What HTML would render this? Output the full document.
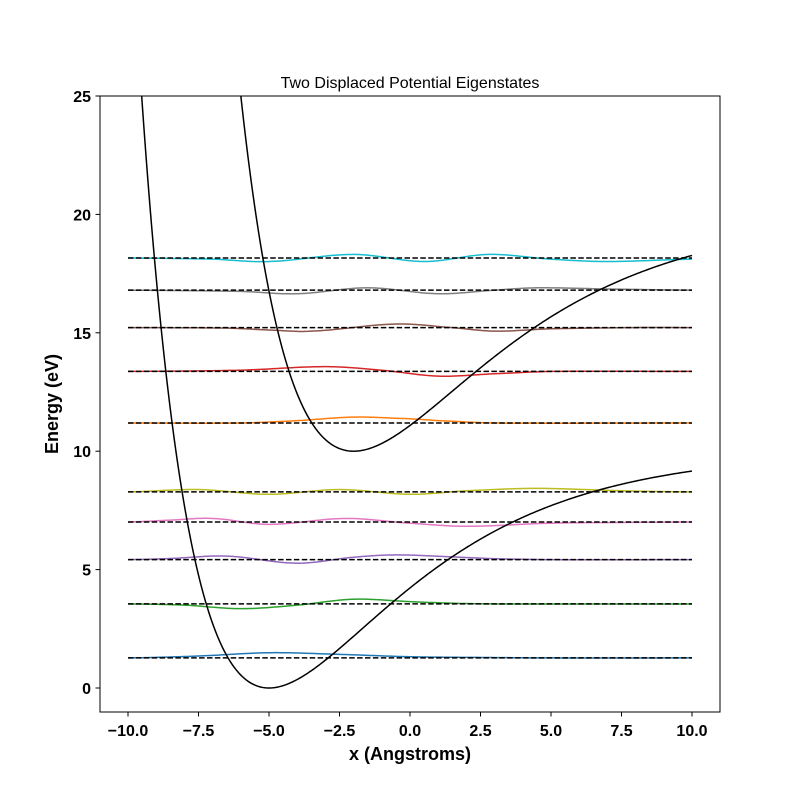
<!DOCTYPE html>
<html><head><meta charset="utf-8"><style>
body{margin:0;background:#fff}
svg text{font-family:"Liberation Sans","DejaVu Sans",sans-serif}
</style></head><body>
<svg id="chart" width="800" height="800" viewBox="0 0 800 800">
<defs><clipPath id="plotclip"><rect x="100" y="96" width="620" height="616"/></clipPath></defs>
<rect x="0" y="0" width="800" height="800" fill="#fff"/>
<text x="410" y="88" text-anchor="middle" font-size="16">Two Displaced Potential Eigenstates</text>
<g id="plot" clip-path="url(#plotclip)"></g>
<g id="axes"></g>
<rect x="100" y="96" width="620" height="616" fill="none" stroke="#000" stroke-width="1"/>
<text x="410" y="760" text-anchor="middle" font-size="18" font-weight="bold">x (Angstroms)</text>
<text x="58" y="404" text-anchor="middle" font-size="18" font-weight="bold" transform="rotate(-90 58 404)">Energy (eV)</text>
</svg>
<script>
const xTicks=[-10,-7.5,-5,-2.5,0,2.5,5,7.5,10];
const xTickLabels=["−10.0","−7.5","−5.0","−2.5","0.0","2.5","5.0","7.5","10.0"];
const yTicks=[0,5,10,15,20,25];
const yTickLabels=["0","5","10","15","20","25"];
const energies=[1.27,3.55,5.42,7.01,8.28,11.19,13.37,15.22,16.8,18.16];
const colors=["#1f77b4","#2ca02c","#9467bd","#e377c2","#bcbd22","#ff7f0e","#d62728","#8c564b","#7f7f7f","#17becf"];
const knotX0=[-10,-7.5,-5,-2.5,0,2.5,5,10];
const wave0=[0,0.08,0.22,0.15,0.05,0.02,0,0];
const knotX1=[-10,-8,-6,-4,-2,0,1.5,3,10];
const wave1=[0,-0.05,-0.2,-0.05,0.2,0.1,0.03,0,0];
const knotX2=[-10,-8.5,-6.5,-4,-2,-0.5,1.5,3,5,10];
const wave2=[0,0.05,0.15,-0.15,0.1,0.2,0.12,0.04,0,0];
const knotX3=[-10,-8.5,-7,-5,-2.3,0,2,5,7.5,10];
const wave3=[0,0.08,0.15,-0.1,0.15,-0.05,-0.18,-0.05,-0.02,0];
const knotX4=[-10,-7.5,-5,-2.5,0,2,4.5,7.5,10];
const wave4=[0,0.1,-0.1,0.1,-0.1,0.05,0.15,0.05,0];
const knotX5=[-10,-6,-4,-2,0,1,3,10];
const wave5=[0,0,0.1,0.25,0.18,0.1,0,0];
const knotX6=[-10,-6,-3,-1,1,3,5,10];
const wave6=[0,0.05,0.2,0.05,-0.2,-0.1,0,0];
const knotX7=[-10,-6.5,-5,-3.5,-0.5,1.5,3,5,8,10];
const wave7=[0,-0.02,-0.1,-0.15,0.15,0,-0.15,-0.05,0,0];
const knotX8=[-10,-6,-4,-1.5,1,3,4.5,7,10];
const wave8=[0,-0.05,-0.15,0.1,-0.15,0,0.1,0.05,0];
const knotX9=[-10,-7,-5,-2,0.5,2.8,5,7,10];
const wave9=[0,-0.05,-0.15,0.15,-0.15,0.15,-0.05,-0.15,-0.05];
const knotsX=[knotX0,knotX1,knotX2,knotX3,knotX4,knotX5,knotX6,knotX7,knotX8,knotX9];
const waves=[wave0,wave1,wave2,wave3,wave4,wave5,wave6,wave7,wave8,wave9];
const morse1=[10,0.21,-5,0];
const morse2=[10,0.2,-2,10];

const NS="http://www.w3.org/2000/svg";
const X=v=>128+(v+10)*28.2;
const Y=v=>688-v*23.68;
const plot=document.getElementById('plot'), axes=document.getElementById('axes');
function mk(tag,attrs,parent){const e=document.createElementNS(NS,tag);for(const k in attrs)e.setAttribute(k,attrs[k]);parent.appendChild(e);return e;}
function interp(xs,ys,x){
  let i=0;while(i<xs.length-2&&x>xs[i+1])i++;
  const p0=ys[Math.max(i-1,0)],p1=ys[i],p2=ys[i+1],p3=ys[Math.min(i+2,ys.length-1)];
  const t=(x-xs[i])/(xs[i+1]-xs[i]);
  return 0.5*((2*p1)+(-p0+p2)*t+(2*p0-5*p1+4*p2-p3)*t*t+(-p0+3*p1-3*p2+p3)*t*t*t);
}
for(let s=0;s<energies.length;s++){
  let d='';
  for(let k=0;k<=200;k++){const x=-10+k*0.1;const v=energies[s]+interp(knotsX[s],waves[s],x);d+=(k?'L':'M')+X(x).toFixed(2)+','+Y(v).toFixed(2);}
  const w=mk('path',{d:d,fill:'none',stroke:colors[s],'stroke-width':1.5},plot);
  
  
  const l=mk('line',{x1:X(-10),x2:X(10),y1:Y(energies[s]),y2:Y(energies[s]),stroke:'#000','stroke-width':1.5,'stroke-dasharray':'5.5,2.4'},plot);
  
  
}
[morse1,morse2].forEach((m,i)=>{
  let d='';
  for(let k=0;k<=400;k++){const x=-10+k*0.05;const e=1-Math.exp(-m[1]*(x-m[2]));const v=m[3]+m[0]*e*e;d+=(k?'L':'M')+X(x).toFixed(2)+','+Math.max(Y(v),-50).toFixed(2);}
  const p=mk('path',{d:d,fill:'none',stroke:'#000','stroke-width':1.5},plot);
  
  
});
xTicks.forEach((t,i)=>{
  const x=X(t);
  const tk=mk('line',{x1:x,x2:x,y1:712,y2:716.5,stroke:'#000'},axes);
  
  
  const tx=mk('text',{x:x,y:736,'text-anchor':'middle','font-size':16,'font-weight':'bold'},axes);
  tx.textContent=xTickLabels[i];
  
  
});
yTicks.forEach((t,i)=>{
  const y=Y(t);
  const tk=mk('line',{x1:95.5,x2:100,y1:y,y2:y,stroke:'#000'},axes);
  
  
  const tx=mk('text',{x:91,y:y+6,'text-anchor':'end','font-size':16,'font-weight':'bold'},axes);
  tx.textContent=yTickLabels[i];
  
  
});
</script>
</body></html>
